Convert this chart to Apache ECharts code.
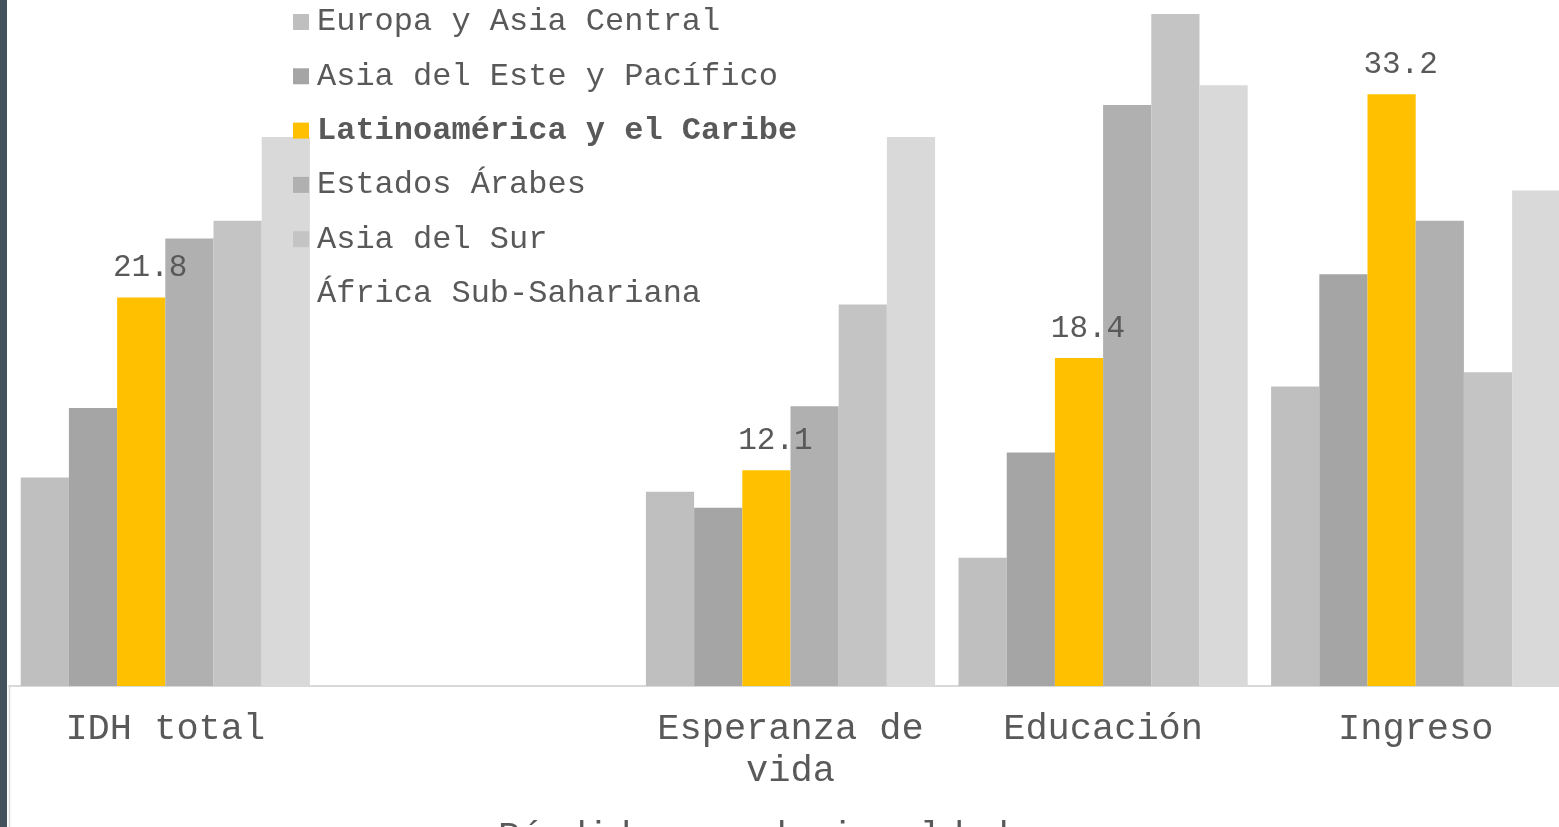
<!DOCTYPE html>
<html>
<head>
<meta charset="utf-8">
<script src="https://cdn.jsdelivr.net/npm/echarts@6/dist/echarts.min.js"></script>
<style>
  html, body { margin: 0; padding: 0; background: #ffffff; }
  #chart { width: 1559px; height: 827px; }
</style>
</head>
<body>
<div id="chart"></div>
<script>
// Categories (the second one is an empty slot in the original)
const categories = ['IDH total', '', 'Esperanza de\nvida', 'Educación', 'Ingreso'];

// Series names
const seriesNames = [
  'Europa y Asia Central',
  'Asia del Este y Pacífico',
  'Latinoamérica y el Caribe',
  'Estados Árabes',
  'Asia del Sur',
  'África Sub-Sahariana'
];

// Values per series (loss due to inequality, %)
const europaAsiaCentral = [11.7, null, 10.9, 7.2, 16.8];
const asiaEstePacifico  = [15.6, null, 10.0, 13.1, 23.1];
const latinoamerica     = [21.8, null, 12.1, 18.4, 33.2];
const estadosArabes     = [25.1, null, 15.7, 32.6, 26.1];
const asiaSur           = [26.1, null, 21.4, 37.7, 17.6];
const africaSub         = [30.8, null, 30.8, 33.7, 27.8];

const axisTitle = 'Pérdida por desigualdad';

const colors = ['#bfbfbf', '#a5a5a5', '#ffc000', '#b0b0b0', '#c4c4c4', '#d9d9d9'];
const allValues = [europaAsiaCentral, asiaEstePacifico, latinoamerica, estadosArabes, asiaSur, africaSub];

const FONT = '"Courier New", "Liberation Mono", monospace';
const TEXT = '#595959';

const chart = echarts.init(document.getElementById('chart'), null, { renderer: 'canvas' });

const series = seriesNames.map((name, i) => {
  const s = {
    name: name,
    type: 'bar',
    data: allValues[i],
    barGap: '0%',
    barCategoryGap: '7.5%',
    itemStyle: { color: colors[i] },
    emphasis: { disabled: true },
    animation: false
  };
  if (i === 2) {
    s.label = {
      show: true,
      position: 'top',
      distance: 14,
      offset: [9, 0],
      color: TEXT,
      fontFamily: FONT,
      fontSize: 31,
      formatter: p => p.value.toFixed(1)
    };
  }
  return s;
});

const option = {
  backgroundColor: '#ffffff',
  animation: false,
  grid: {
    left: 9,
    right: -13,
    top: -27,
    bottom: 141,
    containLabel: false,
    outerBoundsMode: 'none'
  },
  legend: {
    orient: 'vertical',
    left: 293,
    top: 6,
    padding: 0,
    itemWidth: 16,
    itemHeight: 16,
    itemGap: 22.3,
    icon: 'rect',
    selectedMode: false,
    textStyle: { color: TEXT, fontFamily: FONT, fontSize: 32, lineHeight: 32, padding: [0, 0, 0, 3] },
    data: seriesNames.map((n, i) => i === 2
      ? { name: n, textStyle: { fontWeight: 'bold' } }
      : { name: n })
  },
  xAxis: {
    type: 'category',
    data: categories,
    axisTick: { show: false },
    axisLine: { show: true, lineStyle: { color: '#d9d9d9', width: 2 } },
    axisLabel: {
      color: TEXT,
      fontFamily: FONT,
      fontSize: 37,
      lineHeight: 42,
      margin: 22,
      interval: 0
    }
  },
  yAxis: {
    type: 'value',
    min: 0,
    max: 40,
    show: false,
    splitLine: { show: false }
  },
  graphic: [
    {
      type: 'rect',
      shape: { x: 0, y: 0, width: 7, height: 827 },
      style: { fill: '#44525e' },
      silent: true
    },
    {
      type: 'line',
      shape: { x1: 9.5, y1: 686, x2: 9.5, y2: 827 },
      style: { stroke: '#d9d9d9', lineWidth: 1.5 },
      silent: true
    },
    {
      type: 'text',
      x: 498,
      y: 837,
      style: {
        text: axisTitle,
        fill: TEXT,
        font: '37px ' + FONT,
        textAlign: 'left',
        textVerticalAlign: 'middle'
      },
      silent: true
    }
  ],
  series: series
};

chart.setOption(option);
</script>
</body>
</html>
